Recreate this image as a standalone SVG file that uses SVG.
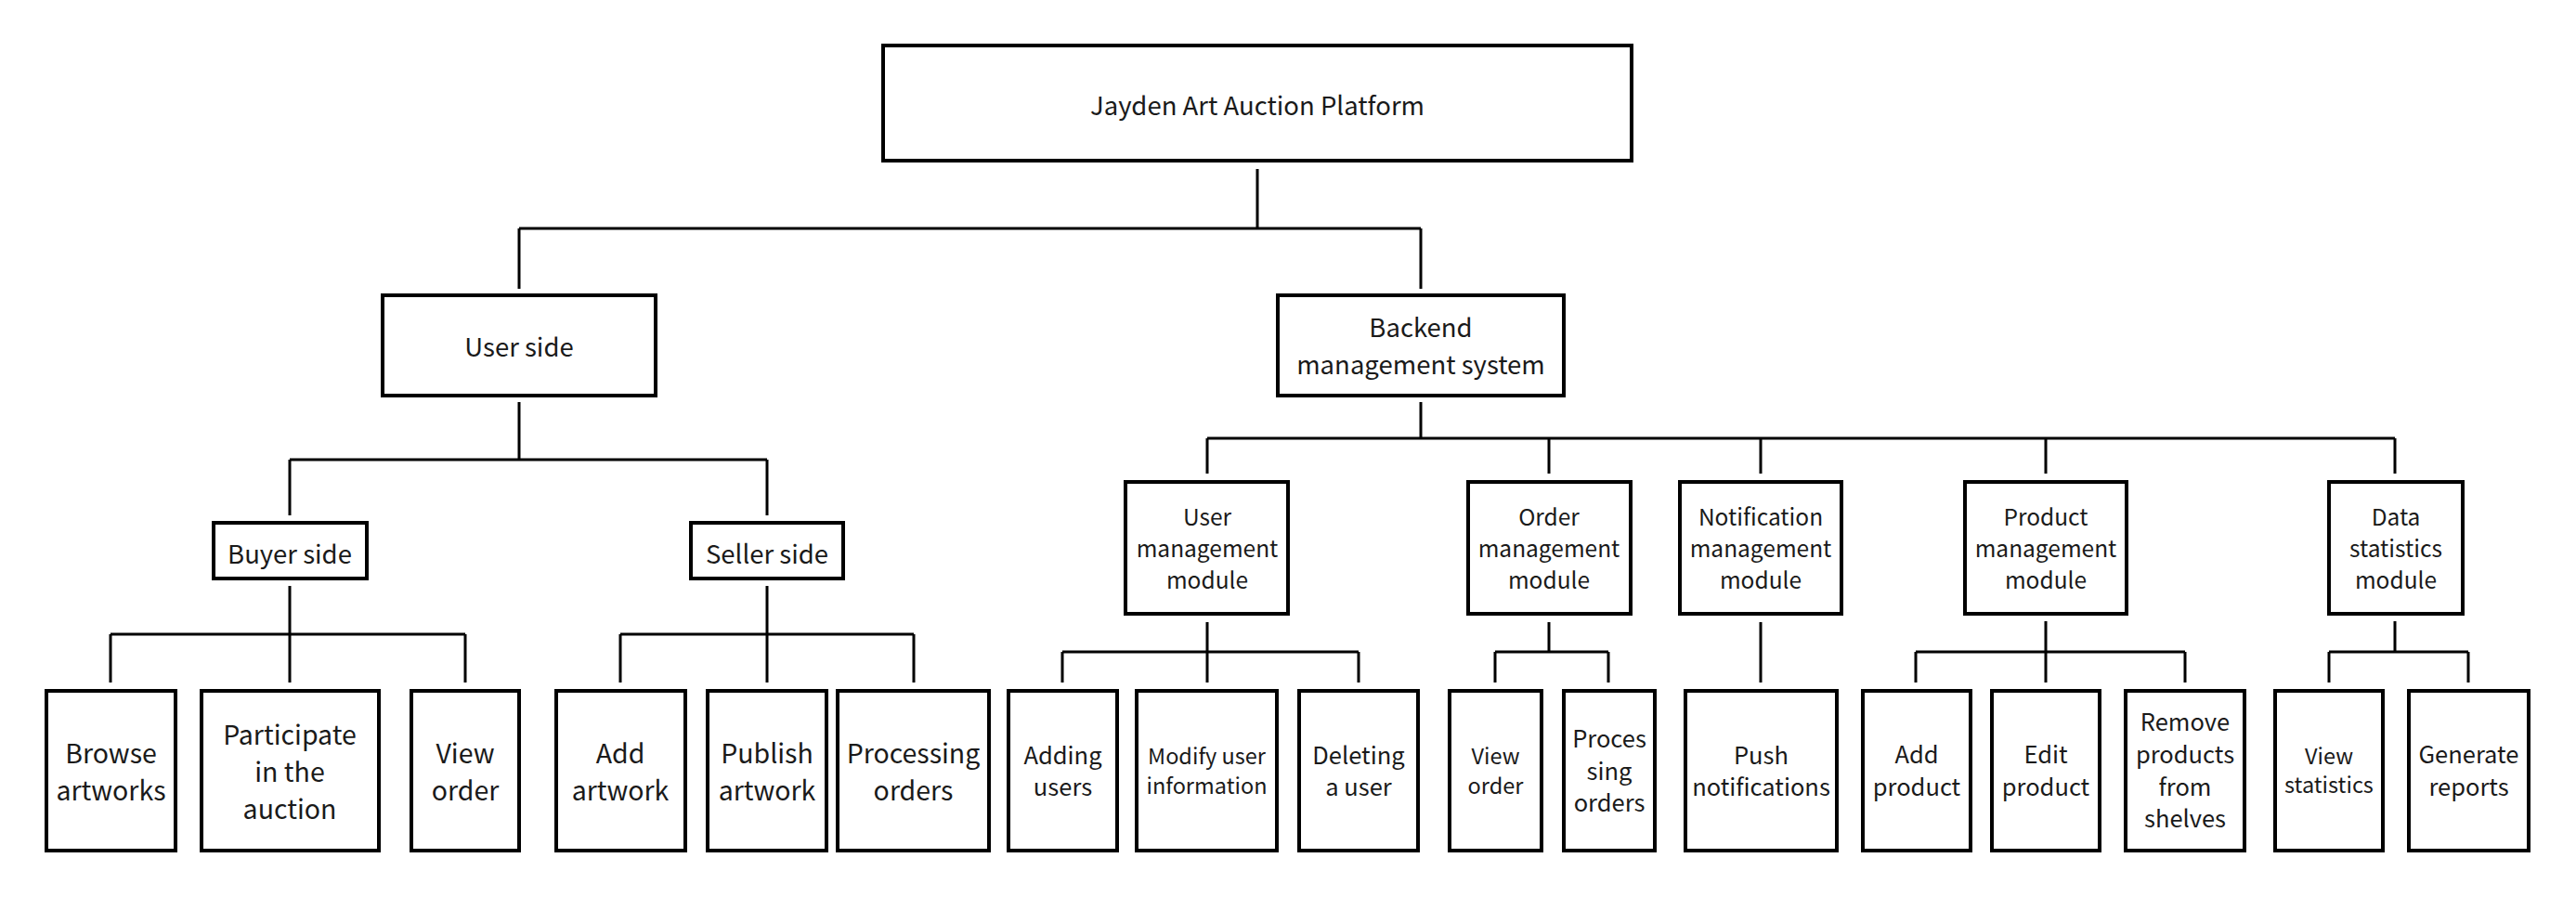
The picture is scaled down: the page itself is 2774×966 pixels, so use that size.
<svg xmlns="http://www.w3.org/2000/svg" width="2774" height="966" viewBox="0 0 2774 966">
<style>
.box{fill:#fff;stroke:#000;stroke-width:4}
.ln{fill:none;stroke:#000;stroke-width:3}
text{font-family:"Noto Sans CJK SC","Noto Sans",sans-serif;fill:#1a1a1a;text-anchor:middle}
.f29{font-size:27.5px}
.f30{font-size:28.5px}
.f26{font-size:24.5px}
.f27{font-size:25.5px}
.f25{font-size:23.5px}
</style>
<rect width="2774" height="966" fill="#fff"/>
<g id="connectors">
<path class="ln" d="M1354 182V246M559 246H1530M559 246V311M1530 246V311"/>
<path class="ln" d="M559 433V495M312 495H826M312 495V555M826 495V555"/>
<path class="ln" d="M312 631V683M119 683H501M119 683V735M312 683V735M501 683V735"/>
<path class="ln" d="M826 631V683M668 683H984M668 683V735M826 683V735M984 683V735"/>
<path class="ln" d="M1530 433V472M1300 472H2579M1300 472V510M1668 472V510M1896 472V510M2203 472V510M2579 472V510"/>
<path class="ln" d="M1300 670V702M1144 702H1463M1144 702V735M1300 702V735M1463 702V735"/>
<path class="ln" d="M1668 670V702M1610 702H1732M1610 702V735M1732 702V735"/>
<path class="ln" d="M1896 670V735"/>
<path class="ln" d="M2203 669V702M2063 702H2353M2063 702V735M2203 702V735M2353 702V735"/>
<path class="ln" d="M2579 669V702M2508 702H2658M2508 702V735M2658 702V735"/>
</g>
<g id="root"><rect class="box" x="951" y="49" width="806" height="124"/><text class="f29" x="1354" y="124">Jayden Art Auction Platform</text></g>
<g id="user-side"><rect class="box" x="412" y="318" width="294" height="108"/><text class="f29" x="559" y="384">User side</text></g>
<g id="backend"><rect class="box" x="1376" y="318" width="308" height="108"/><text class="f29" x="1530" y="363">Backend</text><text class="f29" x="1530" y="403">management system</text></g>
<g id="buyer-side"><rect class="box" x="230" y="563" width="165" height="60"/><text class="f29" x="312" y="607">Buyer side</text></g>
<g id="seller-side"><rect class="box" x="744" y="563" width="164" height="60"/><text class="f29" x="826" y="607">Seller side</text></g>
<g id="browse"><rect class="box" x="50" y="744" width="139" height="172"/><text class="f30" x="119.5" y="822">Browse</text><text class="f30" x="119.5" y="862">artworks</text></g>
<g id="participate"><rect class="box" x="217" y="744" width="191" height="172"/><text class="f30" x="312" y="802">Participate</text><text class="f30" x="312" y="842">in the</text><text class="f30" x="312" y="882">auction</text></g>
<g id="view-order-buyer"><rect class="box" x="443" y="744" width="116" height="172"/><text class="f30" x="501" y="822">View</text><text class="f30" x="501" y="862">order</text></g>
<g id="add-artwork"><rect class="box" x="599" y="744" width="139" height="172"/><text class="f30" x="668" y="822">Add</text><text class="f30" x="668" y="862">artwork</text></g>
<g id="publish-artwork"><rect class="box" x="762" y="744" width="128" height="172"/><text class="f30" x="826" y="822">Publish</text><text class="f30" x="826" y="862">artwork</text></g>
<g id="processing-orders"><rect class="box" x="902" y="744" width="163" height="172"/><text class="f30" x="983.5" y="822">Processing</text><text class="f30" x="983.5" y="862">orders</text></g>
<g id="user-mgmt"><rect class="box" x="1212" y="519" width="175" height="142"/><text class="f26" x="1300" y="566">User</text><text class="f26" x="1300" y="600">management</text><text class="f26" x="1300" y="634">module</text></g>
<g id="order-mgmt"><rect class="box" x="1581" y="519" width="175" height="142"/><text class="f26" x="1668" y="566">Order</text><text class="f26" x="1668" y="600">management</text><text class="f26" x="1668" y="634">module</text></g>
<g id="notification-mgmt"><rect class="box" x="1809" y="519" width="174" height="142"/><text class="f26" x="1896" y="566">Notification</text><text class="f26" x="1896" y="600">management</text><text class="f26" x="1896" y="634">module</text></g>
<g id="product-mgmt"><rect class="box" x="2116" y="519" width="174" height="142"/><text class="f26" x="2203" y="566">Product</text><text class="f26" x="2203" y="600">management</text><text class="f26" x="2203" y="634">module</text></g>
<g id="data-stats"><rect class="box" x="2508" y="519" width="144" height="142"/><text class="f26" x="2580" y="566">Data</text><text class="f26" x="2580" y="600">statistics</text><text class="f26" x="2580" y="634">module</text></g>
<g id="adding-users"><rect class="box" x="1086" y="744" width="117" height="172"/><text class="f27" x="1144.5" y="823">Adding</text><text class="f27" x="1144.5" y="857">users</text></g>
<g id="modify-user"><rect class="box" x="1224" y="744" width="151" height="172"/><text class="f25" x="1299.5" y="823">Modify user</text><text class="f25" x="1299.5" y="855">information</text></g>
<g id="deleting-user"><rect class="box" x="1399" y="744" width="128" height="172"/><text class="f27" x="1463" y="823">Deleting</text><text class="f27" x="1463" y="857">a user</text></g>
<g id="view-order-mgmt"><rect class="box" x="1561" y="744" width="99" height="172"/><text class="f25" x="1610.5" y="823">View</text><text class="f25" x="1610.5" y="855">order</text></g>
<g id="processing-mgmt"><rect class="box" x="1684" y="744" width="98" height="172"/><text class="f27" x="1733" y="805">Proces</text><text class="f27" x="1733" y="840">sing</text><text class="f27" x="1733" y="874">orders</text></g>
<g id="push-notifications"><rect class="box" x="1815" y="744" width="163" height="172"/><text class="f27" x="1896.5" y="823">Push</text><text class="f27" x="1896.5" y="857">notifications</text></g>
<g id="add-product"><rect class="box" x="2006" y="744" width="116" height="172"/><text class="f27" x="2064" y="822">Add</text><text class="f27" x="2064" y="857">product</text></g>
<g id="edit-product"><rect class="box" x="2145" y="744" width="116" height="172"/><text class="f27" x="2203" y="822">Edit</text><text class="f27" x="2203" y="857">product</text></g>
<g id="remove-products"><rect class="box" x="2289" y="744" width="128" height="172"/><text class="f27" x="2353" y="787">Remove</text><text class="f27" x="2353" y="822">products</text><text class="f27" x="2353" y="857">from</text><text class="f27" x="2353" y="891">shelves</text></g>
<g id="view-statistics"><rect class="box" x="2450" y="744" width="116" height="172"/><text class="f25" x="2508" y="823">View</text><text class="f25" x="2508" y="854">statistics</text></g>
<g id="generate-reports"><rect class="box" x="2594" y="744" width="129" height="172"/><text class="f27" x="2658.5" y="822">Generate</text><text class="f27" x="2658.5" y="857">reports</text></g>
</svg>
